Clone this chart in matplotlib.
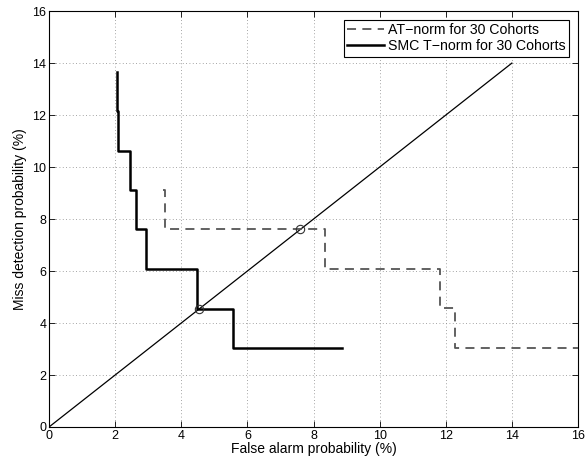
import matplotlib
matplotlib.use("Agg")
import matplotlib.pyplot as plt

plt.rcParams['font.family'] = ['Liberation Sans', 'DejaVu Sans']

# Data (percent)
at_fa = [3.45, 3.5, 3.5, 8.35, 8.35, 11.83, 11.83, 12.28, 12.28, 16.0]
at_md = [9.1, 9.1, 7.6, 7.6, 6.06, 6.06, 4.57, 4.57, 3.03, 3.03]

smc_fa = [2.05, 2.05, 2.1, 2.1, 2.45, 2.45, 2.63, 2.63, 2.93, 2.93, 4.49, 4.49, 5.58, 5.58, 8.85]
smc_md = [13.65, 12.15, 12.15, 10.6, 10.6, 9.1, 9.1, 7.6, 7.6, 6.06, 6.06, 4.55, 4.55, 3.03, 3.03]

eer_points = [4.55, 7.6]
diag = [0, 14]

xticks = list(range(0, 17, 2))
yticks = list(range(0, 17, 2))

fig = plt.figure(figsize=(5.85, 4.58), dpi=100)
ax = fig.add_axes([0.0838, 0.0677, 0.9042, 0.908])

ax.plot(diag, diag, color='black', lw=0.9, zorder=2)
ax.plot(at_fa, at_md, color='#555555', lw=1.3, ls=(0, (5, 3.5)), label='AT\u2212norm for 30 Cohorts', zorder=3)
ax.plot(smc_fa, smc_md, color='black', lw=1.8, label='SMC T\u2212norm for 30 Cohorts', zorder=3)
ax.plot(eer_points, eer_points, 'o', mfc='none', mec='#333333', ms=6, mew=0.8, zorder=4)

ax.set_xlim(0, 16)
ax.set_ylim(0, 16)
ax.set_xticks(xticks)
ax.set_yticks(yticks)
ax.tick_params(direction='in', top=True, right=True, labelsize=9, length=4, width=0.6, pad=2)
ax.grid(True, color='#888888', ls=(0, (1, 3)), lw=0.6)
for s in ax.spines.values():
    s.set_linewidth(0.8)

ax.set_xlabel('False alarm probability (%)', fontsize=10, labelpad=0)
ax.set_ylabel('Miss detection probability (%)', fontsize=10, labelpad=4)

leg = ax.legend(loc='upper right', fontsize=10.2, frameon=True, fancybox=False,
                edgecolor='black', framealpha=1, borderpad=0.25, handlelength=2.6,
                handletextpad=0.3, labelspacing=0.15, borderaxespad=0.6)
leg.get_frame().set_linewidth(0.8)

fig.savefig('out.png', dpi=100)
